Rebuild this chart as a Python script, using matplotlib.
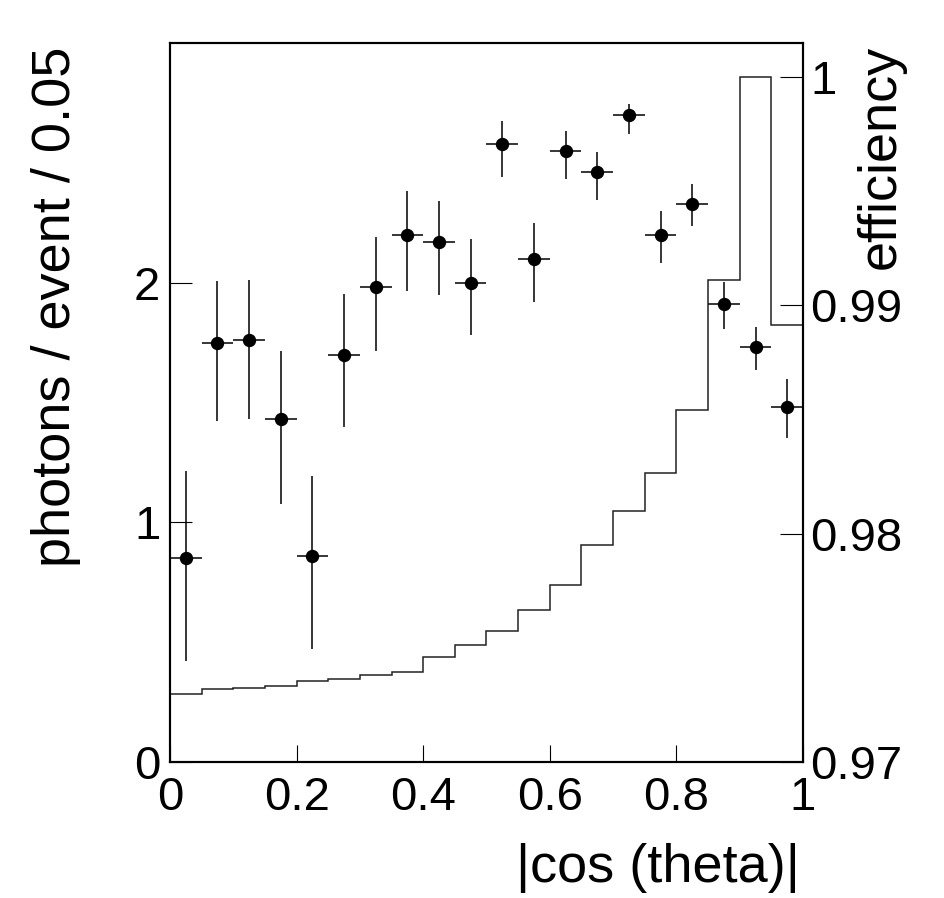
import numpy as np
import matplotlib
matplotlib.use('Agg')
import matplotlib.pyplot as plt

plt.rcParams['font.family'] = ['Liberation Sans', 'DejaVu Sans']

# photons per event in bins of |cos(theta)|, width 0.05
photons = [0.85, 1.75, 1.76, 1.43, 0.86, 1.70, 1.98, 2.20, 2.17, 2.00,
           2.58, 2.10, 2.55, 2.46, 2.70, 2.20, 2.33, 1.91, 1.73, 1.48]
err_up = [0.364, 0.255, 0.253, 0.286, 0.332, 0.251, 0.212, 0.182, 0.170, 0.182,
          0.095, 0.148, 0.081, 0.086, 0.047, 0.098, 0.081, 0.091, 0.086, 0.117]
err_down = [0.430, 0.329, 0.327, 0.353, 0.387, 0.303, 0.265, 0.233, 0.220, 0.219,
            0.139, 0.179, 0.119, 0.113, 0.079, 0.119, 0.093, 0.105, 0.093, 0.129]

# efficiency histogram (right axis)
efficiency = [0.97296, 0.97318, 0.97325, 0.97333, 0.97356, 0.97362, 0.97383, 0.97394,
              0.97460, 0.97512, 0.97572, 0.97664, 0.97777, 0.97951, 0.98098, 0.98268,
              0.98542, 0.99110, 1.00000, 0.98916]

x_ticks = [0, 0.2, 0.4, 0.6, 0.8, 1]
x_ticklabels = ['0', '0.2', '0.4', '0.6', '0.8', '1']
y_ticks = [0, 1, 2]
y_ticklabels = ['0', '1', '2']
eff_ticks = [0.97, 0.98, 0.99, 1.0]
eff_ticklabels = ['0.97', '0.98', '0.99', '1']

n_bins = len(photons)
edges = np.linspace(0, 1, n_bins + 1)
centers = 0.5 * (edges[:-1] + edges[1:])
half_width = 0.5 * (edges[1] - edges[0])

fig = plt.figure(figsize=(9.45, 8.98), dpi=100)
ax = fig.add_axes([170 / 945, 136 / 898, 633 / 945, 719 / 898])

ax.errorbar(centers, photons, xerr=half_width, yerr=[err_down, err_up],
            fmt='o', color='black', ms=8.6, elinewidth=1.1, capsize=0)
ax.set_xlim(0, 1)
ax.set_ylim(0, 3)
ax.set_xticks(x_ticks)
ax.set_xticklabels(x_ticklabels)
ax.set_yticks(y_ticks)
ax.set_yticklabels(y_ticklabels)
ax.tick_params(axis='x', direction='in', length=12, width=0.8, pad=10, labelsize=34)
ax.tick_params(axis='y', direction='in', length=16, width=0.8, pad=7, labelsize=34)
ax.minorticks_off()

ax2 = ax.twinx()
ax2.stairs(efficiency, edges, color='#222222', linewidth=1.1)
ax2.set_ylim(0.97, 1.0015)
ax2.set_yticks(eff_ticks)
ax2.set_yticklabels(eff_ticklabels)
ax2.tick_params(axis='y', direction='in', length=16.5, width=0.8, pad=5, labelsize=34)
ax2.minorticks_off()

for a in (ax, ax2):
    for s in a.spines.values():
        s.set_linewidth(1.5)

# axis titles, ROOT style (right / top aligned)
fig.text(800 / 945, 1 - 882 / 898, '|cos (theta)|', fontsize=39,
         ha='right', va='baseline')
fig.text(70 / 945, 1 - 47 / 898, 'photons / event / 0.05', fontsize=39,
         rotation=90, rotation_mode='anchor', ha='right', va='baseline')
fig.text(895 / 945, 1 - 45 / 898, 'efficiency', fontsize=39,
         rotation=90, rotation_mode='anchor', ha='right', va='baseline')

fig.savefig('out.png', dpi=100)
